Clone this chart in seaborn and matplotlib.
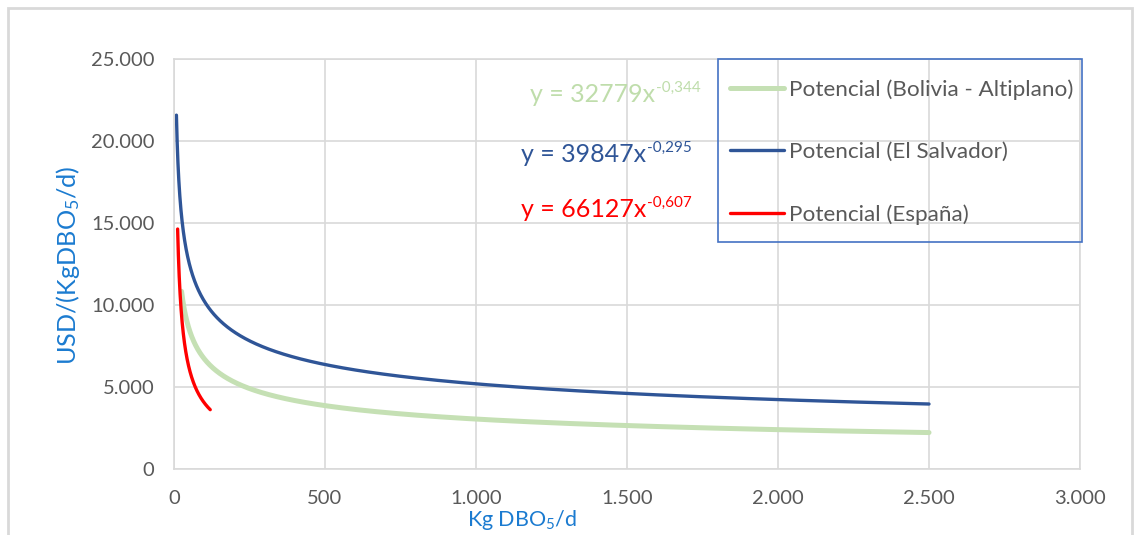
import numpy as np
import pandas as pd
import matplotlib
matplotlib.use("Agg")
import matplotlib.pyplot as plt
from matplotlib.patches import Rectangle
from matplotlib.ticker import FuncFormatter
import seaborn as sns

# Power-law cost fits y = a * x**b, one per region
series = ["Potencial (Bolivia - Altiplano)", "Potencial (El Salvador)", "Potencial (España)"]
coef_a = [32779, 39847, 66127]
coef_b = [-0.344, -0.295, -0.607]
x_start = [25, 8, 12]
x_end = [2500, 2500, 120]
eq_base = ["y = 32779x", "y = 39847x", "y = 66127x"]
eq_exp = ["-0,344", "-0,295", "-0,607"]

colors = ["#C5E0B4", "#2F5597", "#FF0000"]
eq_colors = ["#BFDDAB", "#2F5597", "#FF0000"]
widths = [3.6, 2.4, 2.4]

W, H = 1137, 535

sns.set_theme(style="white")
plt.rcParams["font.family"] = ["Lato", "DejaVu Sans"]
plt.rcParams["mathtext.fontset"] = "custom"
plt.rcParams["mathtext.rm"] = "Lato"
plt.rcParams["mathtext.it"] = "Lato"
plt.rcParams["mathtext.default"] = "regular"

frames = []
for name, a, b, x0, x1 in zip(series, coef_a, coef_b, x_start, x_end):
    x = np.geomspace(x0, x1, 400)
    frames.append(pd.DataFrame({"x": x, "y": a * x ** b, "serie": name}))
df = pd.concat(frames, ignore_index=True)

fig = plt.figure(figsize=(W / 100, H / 100), dpi=100)
ax = fig.add_axes([174 / W, 1 - 469 / H, 906 / W, 410 / H])

sns.lineplot(data=df, x="x", y="y", hue="serie", hue_order=series,
             palette=colors, sort=False, estimator=None, ax=ax, legend=False)
for line, w in zip(ax.get_lines(), widths):
    line.set_linewidth(w)
    line.set_solid_capstyle("round")

ax.set_xlim(0, 3000)
ax.set_ylim(0, 25000)
ax.set_xticks(np.arange(0, 3001, 500))
ax.set_yticks(np.arange(0, 25001, 5000))
fmt = FuncFormatter(lambda v, p: f"{int(v):,}".replace(",", "."))
ax.xaxis.set_major_formatter(fmt)
ax.yaxis.set_major_formatter(fmt)
ax.tick_params(axis="both", length=0, labelsize=14.5, labelcolor="#595959")
ax.tick_params(axis="y", pad=14)
ax.tick_params(axis="x", pad=15)
ax.grid(True, color="#D9D9D9", linewidth=1.2)
ax.set_axisbelow(True)
for s in ax.spines.values():
    s.set_color("#D9D9D9")
    s.set_linewidth(1.2)
ax.set_xlabel("")
ax.set_ylabel("")


def fig_xy(px, py):
    return px / W, 1 - py / H


# Trend equations: base text plus a raised exponent
eq_pos = [(530, 102), (521, 162), (521, 217)]
fig.canvas.draw()
renderer = fig.canvas.get_renderer()
for base, ex, c, (px, py) in zip(eq_base, eq_exp, eq_colors, eq_pos):
    t = fig.text(*fig_xy(px, py), base, color=c, fontsize=18,
                 ha="left", va="baseline")
    bb = t.get_window_extent(renderer)
    fig.text(*fig_xy(bb.x1 + 1, py - 10), ex, color=c, fontsize=11,
             ha="left", va="baseline")

# Legend entries and their frame
handles = [plt.Line2D([], [], color=c, lw=w) for c, w in zip(colors, widths)]
leg = fig.legend(handles, series, loc="upper left",
                 bbox_to_anchor=fig_xy(730, 79),
                 frameon=False, fontsize=16.2,
                 labelcolor="#595959", handlelength=2.4, handletextpad=0.22,
                 labelspacing=1.88, borderpad=0, borderaxespad=0)
fig.patches.append(Rectangle(fig_xy(718, 242), 364 / W, 183 / H,
                             transform=fig.transFigure, fill=False,
                             edgecolor="#4472C4", linewidth=1.2))

# Axis titles
fig.text(*fig_xy(68, 265), "USD/(KgDBO$_5$/d)", rotation=90,
         ha="center", va="center", fontsize=18.2, color="#1B7BD0")
fig.text(*fig_xy(522, 520), "Kg DBO$_5$/d",
         ha="center", va="center", fontsize=15.5, color="#1B7BD0")

# Chart-area border
fig.patches.append(Rectangle((8 / W, -0.05), 1124 / W, 1 - 8 / H + 0.05,
                             transform=fig.transFigure, fill=False,
                             edgecolor="#D9D9D9", linewidth=2))

fig.savefig("out.png", dpi=100, facecolor="white")
